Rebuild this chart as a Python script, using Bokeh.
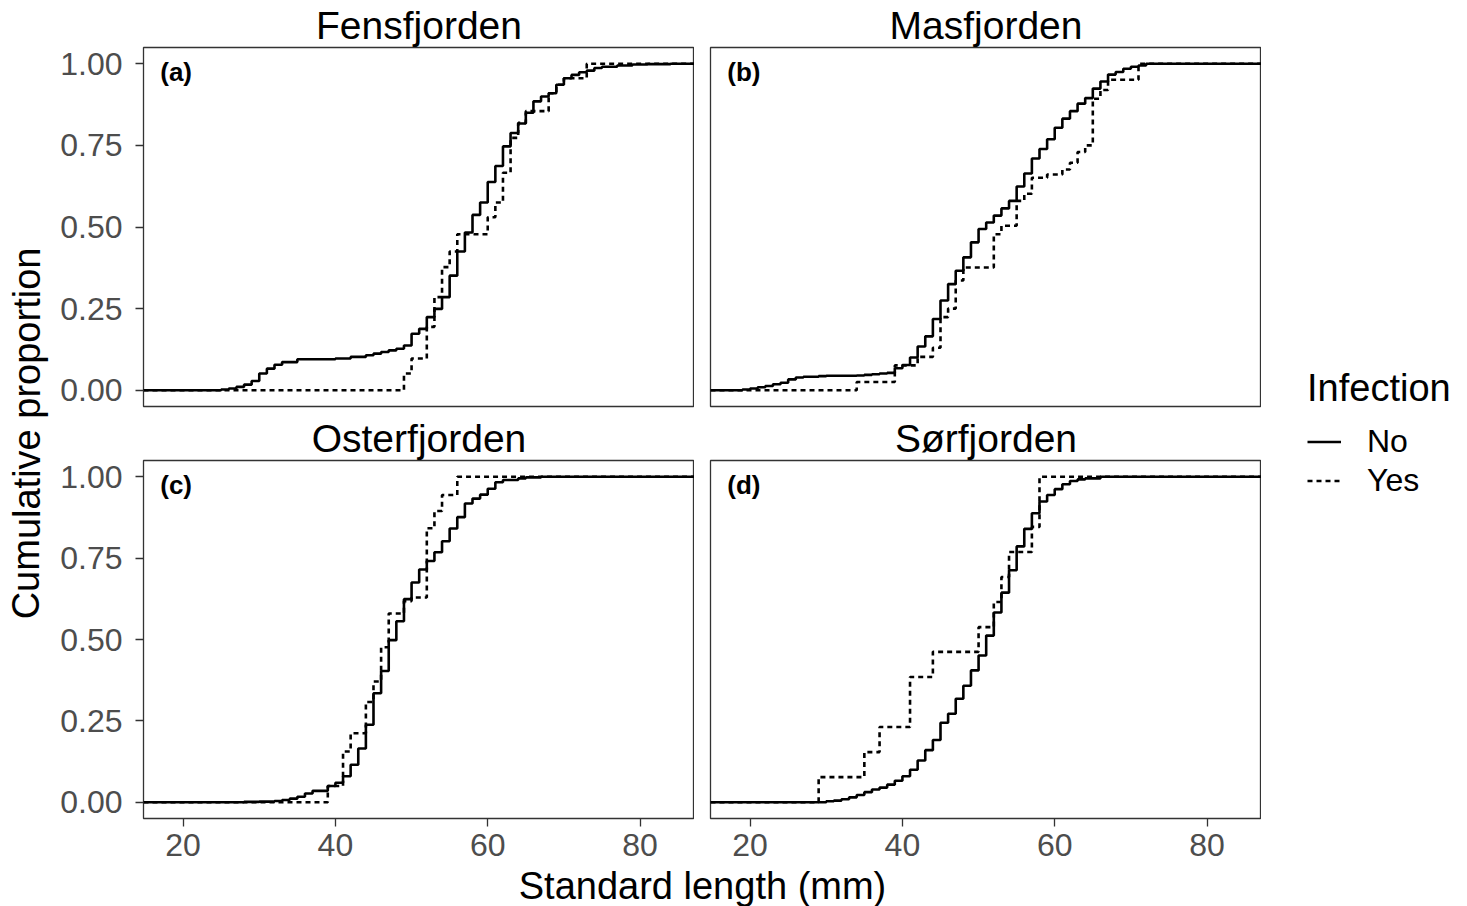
from bokeh.plotting import figure
from bokeh.models import (GridBox, Label, Legend, LegendItem, FixedTicker,
                          NumeralTickFormatter, Range1d, Title)
from bokeh.embed import file_html
from bokeh.resources import INLINE

# ---------------- data (ECDF steps) ----------------
panels = ["Fensfjorden", "Masfjorden", "Osterfjorden", "Sørfjorden"]
tags = ["(a)", "(b)", "(c)", "(d)"]
legend_title = "Infection"
groups = ["No", "Yes"]

a_no_x = [25, 26, 27, 28, 29, 30, 31, 32, 33, 35, 40, 42, 44, 45, 46, 47, 48, 49, 50, 51,
          52, 53, 54, 55, 56, 57, 58, 59, 60, 61, 62, 63, 64, 65, 66, 67, 68, 69, 70, 71,
          72, 73, 74, 75, 77, 79, 81, 84]
a_no_y = [0.002, 0.005, 0.010, 0.017, 0.028, 0.051, 0.066, 0.078, 0.086, 0.095,
          0.097, 0.102, 0.107, 0.112, 0.117, 0.122, 0.127, 0.137, 0.173, 0.188,
          0.224, 0.249, 0.285, 0.351, 0.425, 0.483, 0.537, 0.575, 0.638, 0.687,
          0.747, 0.788, 0.817, 0.850, 0.885, 0.900, 0.910, 0.936, 0.956, 0.966,
          0.974, 0.979, 0.987, 0.991, 0.995, 0.998, 0.999, 1.0]
a_yes_x = [49, 50, 52, 53, 54, 55, 56, 60, 61, 62, 63, 64, 65, 68, 69, 70, 73]
a_yes_y = [0.051, 0.097, 0.194, 0.285, 0.377, 0.425, 0.478, 0.530, 0.575, 0.666,
           0.773, 0.819, 0.855, 0.910, 0.936, 0.956, 1.0]

b_no_x = [19, 20, 21, 22, 23, 24, 25, 26, 27, 29, 30, 34, 35, 36, 37, 38, 39, 40, 41, 42,
          43, 44, 45, 46, 47, 48, 49, 50, 51, 52, 53, 54, 55, 56, 57, 58, 59, 60, 61, 62,
          63, 64, 65, 66, 67, 68, 69, 70, 71, 72]
b_no_y = [0.002, 0.005, 0.009, 0.013, 0.018, 0.023, 0.033, 0.039, 0.041, 0.043,
          0.044, 0.045, 0.047, 0.049, 0.051, 0.053, 0.067, 0.077, 0.100, 0.134,
          0.165, 0.218, 0.275, 0.325, 0.366, 0.407, 0.453, 0.494, 0.514, 0.535,
          0.557, 0.580, 0.624, 0.664, 0.710, 0.739, 0.769, 0.804, 0.832, 0.855,
          0.878, 0.895, 0.924, 0.946, 0.967, 0.975, 0.985, 0.991, 0.995, 1.0]
b_yes_x = [34, 39, 42, 44, 45, 46, 47, 48, 52, 53, 55, 56, 57, 59, 61, 62, 63, 64, 65, 66, 67, 71]
b_yes_y = [0.025, 0.076, 0.102, 0.130, 0.224, 0.250, 0.336, 0.376, 0.478, 0.504,
           0.580, 0.602, 0.651, 0.661, 0.676, 0.697, 0.730, 0.750, 0.893, 0.920, 0.951, 1.0]

c_no_x = [28, 30, 32, 33, 34, 35, 36, 37, 39, 40, 41, 42, 43, 44, 45, 46, 47, 48, 49, 50,
          51, 52, 53, 54, 55, 56, 57, 58, 59, 60, 61, 62, 64, 65, 67]
c_no_y = [0.001, 0.002, 0.004, 0.007, 0.011, 0.017, 0.027, 0.035, 0.050, 0.060,
          0.080, 0.115, 0.165, 0.238, 0.335, 0.403, 0.498, 0.556, 0.624, 0.675,
          0.715, 0.741, 0.768, 0.802, 0.841, 0.876, 0.918, 0.933, 0.945, 0.963,
          0.983, 0.990, 0.995, 0.998, 1.0]
c_yes_x = [39, 41, 42, 44, 45, 46, 47, 49, 50, 52, 53, 54, 56]
c_yes_y = [0.050, 0.156, 0.212, 0.308, 0.371, 0.476, 0.580, 0.618, 0.629, 0.842, 0.895, 0.944, 1.0]

d_no_x = [30, 31, 32, 33, 34, 35, 36, 37, 38, 39, 40, 41, 42, 43, 44, 45, 46, 47, 48, 49,
          50, 51, 52, 53, 54, 55, 56, 57, 58, 59, 60, 61, 62, 63, 64, 66]
d_no_y = [0.003, 0.005, 0.009, 0.015, 0.022, 0.031, 0.039, 0.045, 0.054, 0.066,
          0.080, 0.100, 0.128, 0.160, 0.191, 0.244, 0.272, 0.318, 0.358, 0.405,
          0.451, 0.512, 0.583, 0.644, 0.713, 0.786, 0.840, 0.888, 0.924, 0.944,
          0.962, 0.977, 0.987, 0.992, 0.995, 1.0]
d_yes_x = [29, 35, 37, 41, 44, 50, 52, 53, 54, 57, 58]
d_yes_y = [0.077, 0.154, 0.231, 0.385, 0.462, 0.538, 0.615, 0.692, 0.769, 0.846, 1.0]

x_ticks = [20, 40, 60, 80]
y_ticks = [0.0, 0.25, 0.5, 0.75, 1.0]

series = [
    (a_no_x, a_no_y, a_yes_x, a_yes_y),
    (b_no_x, b_no_y, b_yes_x, b_yes_y),
    (c_no_x, c_no_y, c_yes_x, c_yes_y),
    (d_no_x, d_no_y, d_yes_x, d_yes_y),
]

# ---------------- styling ----------------
FONT = "Liberation Sans"
X0, X1 = 14.8, 87.15
Y0, Y1 = -0.05, 1.05
LW = 2.6
DASH = "5 4"
TICK_COLOR = "#4D4D4D"
FRAME_W = 551
YT_W = 56          # width of the y-title strip
LEFT_B = 87        # left border of the left-column panels

def make_panel(i):
    row, col = divmod(i, 2)
    left = LEFT_B if col == 0 else 16
    top = 47 if row == 0 else 46
    bottom = 8 if row == 0 else 46
    fh = 359 if row == 0 else 358
    p = figure(width=left + FRAME_W, height=top + fh + bottom,
               x_range=Range1d(X0, X1), y_range=Range1d(Y0, Y1),
               output_backend="svg", toolbar_location=None,
               x_axis_location=("below" if row == 1 else None),
               y_axis_location=("left" if col == 0 else None),
               min_border_left=left, min_border_right=0,
               min_border_top=top, min_border_bottom=bottom)
    p.title = Title(text=panels[i], align="center", text_font=FONT,
                    text_font_size="39px", text_font_style="normal",
                    text_color="black", standoff=1)
    p.grid.visible = False
    p.outline_line_color = "#333333"
    p.outline_line_width = 1.3
    p.background_fill_color = "white"
    p.border_fill_color = "white"
    for ax in p.axis:
        ax.axis_line_color = None
        ax.major_tick_line_color = "#333333"
        ax.major_tick_line_width = 1.3
        ax.major_tick_out = 8
        ax.major_tick_in = 0
        ax.minor_tick_line_color = None
        ax.major_label_text_font = FONT
        ax.major_label_text_font_size = "32px"
        ax.major_label_text_color = TICK_COLOR
    if row == 1:
        p.xaxis.ticker = FixedTicker(ticks=x_ticks)
        p.xaxis.major_label_standoff = 7
    if col == 0:
        p.yaxis.ticker = FixedTicker(ticks=y_ticks)
        p.yaxis.formatter = NumeralTickFormatter(format="0.00")
        p.yaxis.major_label_standoff = 13

    nx, ny, yx, yy = series[i]
    p.step(x=[X0] + nx + [X1], y=[0.0] + ny + [1.0], mode="after",
           line_color="black", line_width=LW)
    p.step(x=[X0] + yx + [X1], y=[0.0] + yy + [1.0], mode="after",
           line_color="black", line_width=LW, line_dash=DASH)
    p.add_layout(Label(x=17.0, y=0.975, text=tags[i], text_font=FONT,
                       text_font_size="26px", text_font_style="bold",
                       text_align="left", text_baseline="middle",
                       text_color="black"))
    return p

figs = [make_panel(i) for i in range(4)]
TOTAL_H = figs[0].height + figs[2].height

def blank(width, height, ml=0, **kw):
    p = figure(width=width, height=height, output_backend="svg",
               toolbar_location=None, x_axis_location=None, y_axis_location=None,
               min_border_left=ml, min_border_right=0,
               min_border_top=0, min_border_bottom=0, **kw)
    p.grid.visible = False
    p.outline_line_color = None
    p.background_fill_color = "white"
    p.border_fill_color = "white"
    return p

# y-axis title
ytit = blank(YT_W, TOTAL_H, x_range=Range1d(0, YT_W), y_range=Range1d(0, TOTAL_H))
ytit.add_layout(Label(x=26, y=TOTAL_H - 432.5, text="Cumulative proportion",
                      angle=1.5707963, text_align="center", text_baseline="middle",
                      text_font=FONT, text_font_size="38px", text_color="black"))

# x-axis title
xw = figs[0].width + figs[1].width
xtit = blank(xw, 906 - TOTAL_H, ml=LEFT_B, x_range=Range1d(0, 1), y_range=Range1d(0, 1))
xtit.add_layout(Label(x=0.5, y=0.5, text="Standard length (mm)",
                      text_align="center", text_baseline="middle",
                      text_font=FONT, text_font_size="38px", text_color="black"))

# legend panel (key renderers hold no visible points; they only supply the key glyphs)
nan = float("nan")
leg = blank(1467 - YT_W - xw, TOTAL_H, x_range=Range1d(0, 1), y_range=Range1d(0, 1))
r_no = leg.line(x=[nan, nan], y=[nan, nan], line_color="black", line_width=LW)
r_yes = leg.line(x=[nan, nan], y=[nan, nan], line_color="black", line_width=LW,
                 line_dash=DASH)
legend = Legend(items=[LegendItem(label=groups[0], renderers=[r_no]),
                       LegendItem(label=groups[1], renderers=[r_yes])],
                title=legend_title, location=(46, TOTAL_H - 546),
                title_text_font=FONT, title_text_font_size="38px",
                title_text_font_style="normal", title_text_color="black",
                title_standoff=12,
                label_text_font=FONT, label_text_font_size="32px", label_text_color="black",
                glyph_width=34, glyph_height=39, label_height=39, label_standoff=26,
                spacing=0, padding=0, margin=0,
                border_line_color=None, background_fill_alpha=0)
leg.add_layout(legend)

grid = GridBox(children=[(ytit, 0, 0, 2, 1), (figs[0], 0, 1), (figs[1], 0, 2),
                         (figs[2], 1, 1), (figs[3], 1, 2), (leg, 0, 3, 2, 1),
                         (xtit, 2, 1, 1, 2)], spacing=0)

open("out.html", "w").write(file_html(grid, INLINE))
